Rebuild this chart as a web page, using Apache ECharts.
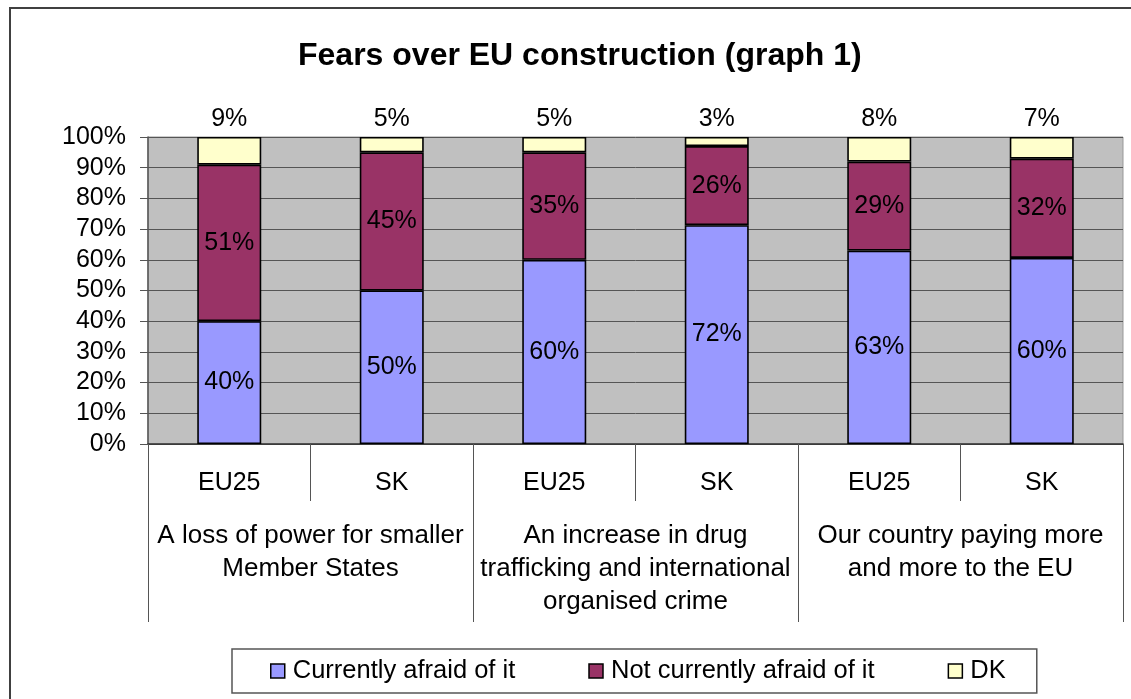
<!DOCTYPE html>
<html>
<head>
<meta charset="utf-8">
<script src="https://cdn.jsdelivr.net/npm/echarts@6/dist/echarts.min.js"></script>
<style>
html,body{margin:0;padding:0;background:#fff;}
#chart{width:1131px;height:699px;}
</style>
</head>
<body>
<div id="chart"></div>
<script>
var countries = ['EU25', 'SK', 'EU25', 'SK', 'EU25', 'SK'];
var groups = [
  'A loss of power for smaller\nMember States',
  'An increase in drug\ntrafficking and international\norganised crime',
  'Our country paying more\nand more to the EU'
];
var seriesNames = ['Currently afraid of it', 'Not currently afraid of it', 'DK'];
var afraid = [40, 50, 60, 72, 63, 60];
var notAfraid = [51, 45, 35, 26, 29, 32];
var dk = [9, 5, 5, 3, 8, 7];
var yTicks = [0, 10, 20, 30, 40, 50, 60, 70, 80, 90, 100];

var FONT = "'Liberation Sans', Arial, sans-serif";
var raw = [afraid, notAfraid, dk];
var colors = ['#9999FF', '#993366', '#FFFFCC'];

function share(arr) {
  return arr.map(function (v, i) {
    var t = afraid[i] + notAfraid[i] + dk[i];
    return v / t * 100;
  });
}

var chart = echarts.init(document.getElementById('chart'), null, {renderer: 'canvas'});

var series = raw.map(function (arr, s) {
  return {
    name: seriesNames[s],
    type: 'bar',
    stack: 'total',
    barWidth: 64,
    data: share(arr),
    itemStyle: {color: colors[s], borderColor: '#000', borderWidth: 1.6},
    label: {
      show: true,
      position: s === 2 ? 'top' : 'inside',
      color: '#000',
      fontFamily: FONT,
      fontSize: 25,
      formatter: function (p) { return raw[s][p.dataIndex] + '%'; }
    },
    emphasis: {disabled: true}
  };
});

chart.setOption({
  animation: false,
  backgroundColor: '#fff',
  textStyle: {fontFamily: FONT},
  title: {
    text: 'Fears over EU construction (graph 1)',
    left: 293,
    top: 35,
    textStyle: {fontFamily: FONT, fontSize: 32, fontWeight: 'bold', color: '#000', lineHeight: 32}
  },
  graphic: [{
    type: 'rect',
    shape: {x: 10, y: 8, width: 1200, height: 800},
    style: {fill: 'none', stroke: '#404040', lineWidth: 2},
    silent: true,
    z: -1
  }],
  legend: {
    data: seriesNames,
    left: 232,
    top: 649,
    orient: 'horizontal',
    padding: [8, 31, 8, 38],
    itemGap: 73,
    itemWidth: 14,
    itemHeight: 14,
    icon: 'rect',
    borderColor: '#555',
    borderWidth: 1.5,
    itemStyle: {borderColor: '#000', borderWidth: 1.5},
    textStyle: {fontFamily: FONT, fontSize: 25.5, color: '#000', lineHeight: 28, padding: [0, 0, 0, 3]},
    selectedMode: false
  },
  grid: {
    left: 148,
    right: 8,
    top: 137,
    bottom: 255,
    show: true,
    backgroundColor: '#C0C0C0',
    borderColor: '#999',
    borderWidth: 1
  },
  xAxis: [{
    type: 'category',
    position: 'bottom',
    data: countries,
    axisLine: {show: true, lineStyle: {color: '#333', width: 1.5}},
    axisTick: {show: true, interval: 0, length: 57, lineStyle: {color: '#555'}},
    axisLabel: {interval: 0, margin: 27, fontFamily: FONT, fontSize: 25, color: '#000'},
    splitLine: {show: false}
  }, {
    type: 'category',
    position: 'bottom',
    data: groups,
    axisLine: {show: false},
    axisTick: {show: true, interval: 0, length: 178, lineStyle: {color: '#555'}},
    axisLabel: {interval: 0, margin: 75, fontFamily: FONT, fontSize: 26, lineHeight: 33, color: '#000'},
    splitLine: {show: false}
  }],
  yAxis: {
    type: 'value',
    min: yTicks[0],
    max: yTicks[yTicks.length - 1],
    interval: 10,
    axisLine: {show: true, lineStyle: {color: '#555', width: 1.5}},
    axisTick: {show: true, length: 8, lineStyle: {color: '#555'}},
    axisLabel: {margin: 22, fontFamily: FONT, fontSize: 25, color: '#000', formatter: '{value}%'},
    splitLine: {show: true, lineStyle: {color: '#555', width: 1}}
  },
  series: series
});
</script>
</body>
</html>
